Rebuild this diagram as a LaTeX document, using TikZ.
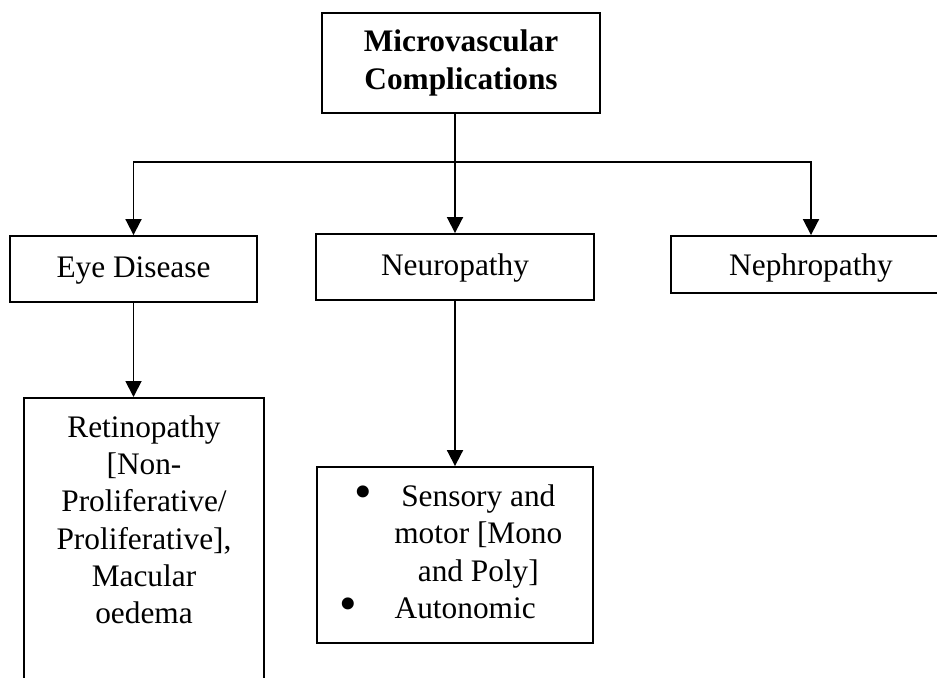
\documentclass[tikz,border=0pt]{standalone}
\usepackage{fontspec}
\setmainfont{Liberation Serif}
\usepackage{array}
\usetikzlibrary{arrows.meta,positioning}

\newcommand{\bigbullet}{\raisebox{-1.5pt}{\scalebox{1.6}{\textbullet}}}

\begin{document}
\begin{tikzpicture}[x=0.75pt,y=-0.75pt,>={Triangle[length=12pt,width=12pt]},line width=1.4pt]
\tikzstyle{title node}=[rectangle,draw,align=center,font=\bfseries\fontsize{23.5}{28}\selectfont]
\tikzstyle{class node}=[rectangle,draw,align=center,font=\fontsize{23.5}{28}\selectfont]

\tikzset{
	wide node/.style={class node,minimum width=208.5pt,minimum height=49.5pt,text height=17pt,text depth=5pt},
	list node/.style={class node,minimum width=207pt,minimum height=132pt,inner sep=0pt}
}

\useasboundingbox (0,0) rectangle (937,677);
\clip (0,0) rectangle (937,677);

      \node[title node,minimum width=208.5pt,minimum height=75pt] (MC) at (461,63) {Microvascular\\Complications};
      \node[wide node,minimum width=185.25pt] (eye) at (133.5,269) {Eye Disease};
      \node[wide node] (neuro) at (455,267) {Neuropathy};
      \node[wide node,minimum width=210pt,minimum height=42.75pt,text depth=1pt] (nephro) at (811,264.5) {Nephropathy};
      \node[class node,anchor=north,text width=160pt,inner xsep=10pt,inner ysep=13pt] (retino) at (144,397)
        {Retinopathy\\{[}Non-\\Proliferative/\\Proliferative],\\Macular\\oedema\\\rule{0pt}{150pt}};
      \node[list node] (types) at (455,555) {%
        \begin{tabular}{@{}p{35pt}@{}>{\centering\arraybackslash}p{139pt}@{}}
        \hspace*{11.5pt}\bigbullet & Sensory and\\
         & motor [Mono\\
         & and Poly]\\
        \hspace*{0.5pt}\bigbullet & \hspace*{6.75pt}Autonomic\hfill\null
        \end{tabular}};
      \coordinate (split) at (456,162);

    \path[->]  (MC.south -| neuro) edge node {} (neuro);
    \draw[->]  (split) -| (eye);
    \draw[->]  (split) -| (nephro);
    \path[->]  (eye.south) edge node {} (eye.south |- retino.north);
    \path[->]  (neuro) edge node {} (types);
\end{tikzpicture}
\end{document}
